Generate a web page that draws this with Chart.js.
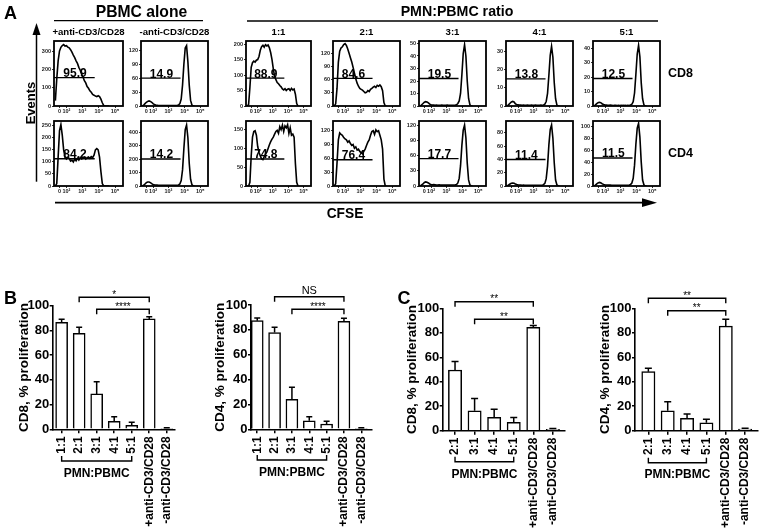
<!DOCTYPE html>
<html><head><meta charset="utf-8">
<script src="https://cdn.jsdelivr.net/npm/chart.js@4.4.1/dist/chart.umd.min.js"></script>
<style>
html,body{margin:0;padding:0;background:#fff;}
#fig{position:relative;width:763px;height:529px;overflow:hidden;background:#fff;}
#fig canvas{position:absolute;}
#deco{position:absolute;left:0;top:0;pointer-events:none;}
</style></head><body><div id="fig"></div>
<script>
// ---------------- DATA ----------------
// Panel A: CFSE histograms (x = CFSE channel in display units, y = events)
const channelGrid = [20,40,60,80,100,120,140,160,180,200,220,240,260,280,300,320,340,360,380,400,420,440,460,480,500,520,540,560,580,600,620,640,660,680,700,720,740,760,780,800];
const cfseTickPos = [80,180,410,650,885];
const cfseTickLabels = ['0','10²','10³','10⁴','10⁵'];
const columnLabels = ['+anti-CD3/CD28','-anti-CD3/CD28','1:1','2:1','3:1','4:1','5:1'];

const cd8Plus  = [30,150,250,305,325,335,340,332,334,326,322,312,298,282,268,250,236,214,198,176,162,140,128,108,98,84,76,64,60,55,52,57,52,38,18,3,0,0,0,0];
const cd8Minus = [0,2,5,8,10,11,10,8,5,3,2,1.5,1,1,1.2,1,0.8,1,1,0.8,1,1,0.8,1,1,1.2,1.5,2,5,15,45,90,125,130,95,45,12,2,0,0];
const cd8R11   = [0,5,60,125,140,145,142,148,150,160,180,192,196,190,198,194,197,188,172,150,120,95,85,76,72,66,62,55,52,56,50,54,56,50,57,52,55,38,8,0];
const cd8R21   = [0,5,40,100,125,132,135,140,142,138,130,120,110,100,88,75,62,52,45,40,38,36,33,30,31,35,33,38,40,43,45,42,47,45,48,44,35,8,0,0];
const cd8R31   = [0,1,2,3,3.5,3.2,2.5,1.5,1,0.8,0.7,0.6,0.7,0.6,0.5,0.6,0.7,0.6,0.5,0.6,0.7,0.6,0.5,0.6,0.5,0.6,0.7,1,2,4,10,25,42,49,40,20,6,1,0,0];
const cd8R41   = [0,0.8,1.5,2.2,2.5,2.2,1.2,0.8,0.6,0.5,0.5,0.4,0.5,0.4,0.4,0.5,0.4,0.4,0.5,0.4,0.4,0.5,0.4,0.4,0.4,0.5,0.4,0.6,1,2.5,7,17,28,33,27,13,4,0.5,0,0];
const cd8R51   = [0,1,1.8,2.4,2.6,2.2,1.4,1,0.7,0.6,0.5,0.5,0.6,0.5,0.4,0.5,0.5,0.4,0.5,0.4,0.5,0.4,0.4,0.5,0.4,0.5,0.4,0.7,1.2,3,9,22,36,42,34,16,5,0.8,0,0];

const cd4Plus  = [0,10,120,230,255,210,150,120,112,118,115,104,108,100,112,105,115,108,118,112,116,120,112,118,121,115,122,118,128,150,155,150,120,60,10,0,0,0,0,0];
const cd4Minus = [0,5,15,25,30,30,25,18,12,9,8,7,6,5,6,5,5,6,5,5,5,6,5,5,5,5,6,8,15,40,120,280,420,455,360,170,50,10,0,0];
const cd4R11   = [0,0,10,80,130,145,147,135,105,90,80,72,70,78,85,90,100,110,118,125,130,138,145,148,140,158,150,162,145,160,155,163,140,155,135,138,130,60,10,0];
const cd4R21   = [0,5,50,100,115,112,110,105,102,100,95,98,92,88,90,82,85,78,80,75,72,70,75,80,88,95,100,110,118,120,112,122,118,120,110,100,80,15,0,0];
const cd4R31   = [0,2,4,7,8,7.5,6,4,3,2.5,3,2.5,2,2,2.2,2,1.8,2,2,1.8,2,2,1.8,2,2,2,2.2,3,6,15,40,80,110,120,95,45,12,2,0,0];
const cd4R41   = [0,1.5,3,4,4.5,4,3,2.2,1.8,1.5,1.5,1.2,1.3,1.1,1,1.2,1,1,1.1,1,1,1.1,1,1,1,1,1.2,2,4,11,30,62,85,92,72,35,9,1.5,0,0];
const cd4R51   = [0,2,4,5.5,6,5,3.5,2.5,2,1.8,1.6,1.5,1.4,1.3,1.2,1.3,1.2,1.1,1.2,1.1,1.1,1.2,1.1,1.1,1.1,1.2,1.3,2.5,5,13,35,70,97,105,82,40,10,2,0,0];

const cd8YMax = [360,140,210,148,52,36,45];
const cd8YTicks = [[0,100,200,300],[0,30,60,90,120],[0,50,100,150,200],[0,30,60,90,120],[0,10,20,30,40,50],[0,10,20,30],[0,10,20,30,40]];
const cd8GateLevel = [157,60,90,63,22,15,19];
const cd8GatePct = ['95.9','14.9','88.9','84.6','19.5','13.8','12.5'];

const cd4YMax = [270,485,173,141,128,98,109];
const cd4YTicks = [[0,50,100,150,200,250],[0,100,200,300,400],[0,50,100,150],[0,30,60,90,120],[0,30,60,90,120],[0,20,40,60,80],[0,20,40,60,80,100]];
const cd4GateLevel = [113,202,72,57,54,40,47];
const cd4GatePct = ['84.2','14.2','74.8','76.4','17.7','11.4','11.5'];

// Panels B and C: % proliferation (mean, SEM)
const catsB = ['1:1','2:1','3:1','4:1','5:1','+anti-CD3/CD28','-anti-CD3/CD28'];
const catsC = ['2:1','3:1','4:1','5:1','+anti-CD3/CD28','-anti-CD3/CD28'];
const bCD8 = [86.6,77.7,28.6,6.5,3.2,89.3,0.8];
const bCD8Err = [2.4,4.8,9.9,3.7,2.5,1.7,0.5];
const bCD4 = [87.4,77.8,24.1,6.9,4.3,86.9,0.8];
const bCD4Err = [2.1,4.2,9.7,3.2,2.1,2.4,0.5];
const cCD8 = [49.6,16.3,11,6.8,84.5,1.2];
const cCD8Err = [7,10,6.5,4,1.5,0.6];
const cCD4 = [48.2,16.3,10.1,6.5,85.5,1.3];
const cCD4Err = [2.8,7.4,3.5,2.8,5.5,0.8];
const yTicksPct = [0,20,40,60,80,100];
// significance comparisons: [from index, to index, label]
const sigBCD8 = [[1,5,'*'],[2,5,'****']];
const sigBCD4 = [[1,5,'NS'],[2,5,'****']];
const sigCCD8 = [[0,4,'**'],[1,4,'**']];
const sigCCD4 = [[0,4,'**'],[1,4,'**']];

// ---------------- RENDER ----------------
const FONT = "'Liberation Sans', Arial, Helvetica, sans-serif";
Chart.defaults.font.family = FONT;
Chart.defaults.color = '#000';
const fig = document.getElementById('fig');

function addCanvas(left, top, w, h){
  const c = document.createElement('canvas');
  c.width = w; c.height = h;
  c.style.left = left + 'px'; c.style.top = top + 'px';
  c.style.width = w + 'px'; c.style.height = h + 'px';
  fig.appendChild(c);
  return c;
}
function noPadH(s){ s.paddingLeft = 0; s.paddingRight = 0; }
function noPadV(s){ s.paddingTop = 0; s.paddingBottom = 0; }

const histDeco = {
  id: 'histDeco',
  afterDraw(chart, args, o){
    const {ctx, chartArea: a, scales: {x, y}} = chart;
    ctx.save();
    ctx.strokeStyle = '#000';
    ctx.lineWidth = 1.8;
    ctx.strokeRect(a.left, a.top, a.right - a.left, a.bottom - a.top);
    const gy = y.getPixelForValue(o.gate);
    ctx.lineWidth = 1.4;
    ctx.beginPath(); ctx.moveTo(a.left, gy); ctx.lineTo(x.getPixelForValue(o.gateEnd), gy); ctx.stroke();
    ctx.fillStyle = '#000';
    ctx.font = 'bold 12px ' + FONT;
    ctx.textAlign = 'center'; ctx.textBaseline = 'alphabetic';
    ctx.fillText(o.label, x.getPixelForValue(o.labelAt), gy - 0.5);
    ctx.restore();
  }
};

const histBoxLeft = [54,141,246,333,419,506,593];
const histBoxWidth = [69,67,65,67,67,67,67];
const histRowTop = [41,121];
const histBoxH = 65;

function makeHist(col, row, ys, ymax, ticks, gate, label){
  const padL = 20, padT = 3, padR = 3, padB = 10;
  const w = histBoxWidth[col] + padL + padR, h = histBoxH + padT + padB;
  const c = addCanvas(histBoxLeft[col] - padL, histRowTop[row] - padT, w, h);
  new Chart(c, {
    type: 'line',
    data: { datasets: [{ data: channelGrid.map((x, i) => ({x: x, y: ys[i]})), borderColor: '#000', borderWidth: 1.6, pointRadius: 0, tension: 0, fill: false }] },
    options: {
      responsive: false, animation: false, devicePixelRatio: 1,
      layout: { padding: { top: padT, right: padR, left: 0, bottom: 0 } },
      plugins: { legend: {display: false}, tooltip: {enabled: false},
        histDeco: { gate: gate, gateEnd: 590, labelAt: 305, label: label } },
      scales: {
        x: { type: 'linear', min: 0, max: 1000, offset: false,
          afterBuildTicks: s => { s.ticks = cfseTickPos.map(v => ({value: v})); },
          afterFit: s => { s.height = padB; noPadH(s); },
          ticks: { autoSkip: false, minRotation: 0, maxRotation: 0, padding: 0.5, color: '#222',
            font: {size: 5.5, weight: 'bold'}, callback: (v, i) => cfseTickLabels[i] },
          grid: { drawOnChartArea: false, tickLength: 2, color: '#000', lineWidth: 0.8, offset: false },
          border: { display: false } },
        y: { min: 0, max: ymax,
          afterBuildTicks: s => { s.ticks = ticks.map(v => ({value: v})); },
          afterFit: s => { s.width = padL; noPadV(s); },
          ticks: { padding: 1, color: '#222', font: {size: 5.5, weight: 'bold'}, callback: v => String(v) },
          grid: { drawOnChartArea: false, tickLength: 2, color: '#000', lineWidth: 0.8 },
          border: { display: false } }
      }
    },
    plugins: [histDeco]
  });
}

const cd8Curves = [cd8Plus, cd8Minus, cd8R11, cd8R21, cd8R31, cd8R41, cd8R51];
const cd4Curves = [cd4Plus, cd4Minus, cd4R11, cd4R21, cd4R31, cd4R41, cd4R51];
for (let i = 0; i < 7; i++){
  makeHist(i, 0, cd8Curves[i], cd8YMax[i], cd8YTicks[i], cd8GateLevel[i], cd8GatePct[i]);
  makeHist(i, 1, cd4Curves[i], cd4YMax[i], cd4YTicks[i], cd4GateLevel[i], cd4GatePct[i]);
}

// ---- bar charts ----
const barDeco = {
  id: 'barDeco',
  afterDatasetsDraw(chart, args, o){
    const {ctx, scales: {x, y}} = chart;
    ctx.save(); ctx.strokeStyle = '#000'; ctx.lineWidth = 1.5;
    o.vals.forEach((v, i) => {
      const px = x.getPixelForValue(i), y1 = y.getPixelForValue(v), y2 = y.getPixelForValue(v + o.errs[i]);
      ctx.beginPath();
      ctx.moveTo(px, y1); ctx.lineTo(px, y2);
      ctx.moveTo(px - o.capW / 2, y2); ctx.lineTo(px + o.capW / 2, y2);
      ctx.stroke();
    });
    ctx.restore();
  },
  afterDraw(chart, args, o){
    const {ctx, scales: {x}} = chart; const T = o.canvasTop;
    ctx.save(); ctx.strokeStyle = '#000'; ctx.fillStyle = '#000'; ctx.lineWidth = 1.4;
    ctx.textAlign = 'center';
    o.sig.forEach((s, k) => {
      const x1 = x.getPixelForValue(s[0]), x2 = x.getPixelForValue(s[1]), yy = o.sigY[k] - T;
      ctx.beginPath(); ctx.moveTo(x1, yy + 5); ctx.lineTo(x1, yy); ctx.lineTo(x2, yy); ctx.lineTo(x2, yy + 5); ctx.stroke();
      const stars = /^\*+$/.test(s[2]);
      ctx.font = (stars ? '10px ' : '11px ') + FONT;
      ctx.textBaseline = 'alphabetic';
      ctx.fillText(s[2], (x1 + x2) / 2, stars ? yy + 0.5 : yy - 2.7);
    });
    const g1 = x.getPixelForValue(o.group[0]), g2 = x.getPixelForValue(o.group[1]), gy = o.groupY - T;
    ctx.beginPath(); ctx.moveTo(g1, gy - 5); ctx.lineTo(g1, gy); ctx.lineTo(g2, gy); ctx.lineTo(g2, gy - 5); ctx.stroke();
    ctx.font = 'bold 12px ' + FONT; ctx.textBaseline = 'middle';
    ctx.fillText('PMN:PBMC', (g1 + g2) / 2, o.groupTextY - T);
    ctx.restore();
  }
};

function makeBar(g, cats, vals, errs, sig, title){
  const top = 280, H = 249;
  const w = Math.round(g.right + 6 - g.left);
  const c = addCanvas(g.left, top, w, H);
  new Chart(c, {
    type: 'bar',
    data: { datasets: [{ data: cats.map((cat, i) => ({x: i, y: vals[i]})), backgroundColor: '#fff',
      borderColor: '#000', borderWidth: 1.5, barThickness: g.barW }] },
    options: {
      responsive: false, animation: false, devicePixelRatio: 1,
      layout: { padding: { top: g.top - top, right: w - (g.right - g.left), left: 0, bottom: 0 } },
      plugins: { legend: {display: false}, tooltip: {enabled: false},
        barDeco: { vals: vals, errs: errs, capW: g.capW, sig: sig, sigY: g.sigY, canvasTop: top,
          group: [0, cats.length - 3], groupY: g.groupY, groupTextY: g.groupTextY } },
      scales: {
        x: { type: 'linear', min: g.xmin, max: g.xmax, offset: false,
          afterBuildTicks: s => { s.ticks = cats.map((cat, i) => ({value: i})); },
          afterFit: s => { s.height = H - (g.bottom - top); noPadH(s); },
          ticks: { autoSkip: false, minRotation: 90, maxRotation: 90, padding: 3, color: '#000',
            font: {size: 12, weight: 'bold'}, callback: (v, i) => cats[i] },
          grid: { drawOnChartArea: false, tickLength: 4, color: '#000', lineWidth: 1.5, offset: false },
          border: { display: true, color: '#000', width: 1.6 } },
        y: { min: 0, max: 100,
          afterBuildTicks: s => { s.ticks = yTicksPct.map(v => ({value: v})); },
          afterFit: s => { s.width = g.axis - g.left; noPadV(s); },
          ticks: { padding: 0.5, color: '#000', font: {size: 13, weight: 'bold'} },
          grid: { drawOnChartArea: false, tickLength: 3, color: '#000', lineWidth: 1.5 },
          border: { display: true, color: '#000', width: 1.6 },
          title: { display: true, text: title, color: '#000', font: {size: 13.5, weight: 'bold'},
            padding: { top: g.titleX - g.left - 8.1, bottom: 0 } } }
      }
    },
    plugins: [barDeco]
  });
}

makeBar({left: 0, axis: 52.7, right: 175, top: 305.7, bottom: 429.3, xmin: -0.51, xmax: 6.47, barW: 12, capW: 6,
  titleX: 24, sigY: [297.3, 309.3], groupY: 461, groupTextY: 473.3}, catsB, bCD8, bCD8Err, sigBCD8, 'CD8, % proliferation');
makeBar({left: 195, axis: 251, right: 371.7, top: 305, bottom: 429.3, xmin: -0.36, xmax: 6.6, barW: 12, capW: 6,
  titleX: 220.2, sigY: [296.7, 309.3], groupY: 460, groupTextY: 472.3}, catsB, bCD4, bCD4Err, sigBCD4, 'CD4, % proliferation');
makeBar({left: 388, axis: 442.7, right: 565, top: 308.3, bottom: 430.7, xmin: -0.63, xmax: 5.62, barW: 13.3, capW: 7,
  titleX: 411.8, sigY: [301.7, 319.3], groupY: 461.7, groupTextY: 475}, catsC, cCD8, cCD8Err, sigCCD8, 'CD8, % proliferation');
makeBar({left: 580, axis: 635, right: 757.7, top: 308.3, bottom: 430.7, xmin: -0.69, xmax: 5.65, barW: 13.3, capW: 7,
  titleX: 605.2, sigY: [298.3, 310.7], groupY: 462.7, groupTextY: 475}, catsC, cCD4, cCD4Err, sigCCD4, 'CD4, % proliferation');

// ---- panel-level labels, header lines and axis arrows ----
function t(x, y, str, size, extra){
  return `<text x="${x}" y="${y}" font-size="${size}" text-anchor="middle" dominant-baseline="central" ${extra || ''}>${str}</text>`;
}
let svg = `<svg id="deco" width="763" height="529" viewBox="0 0 763 529" xmlns="http://www.w3.org/2000/svg" font-family="${FONT.replace(/'/g, '')}" font-weight="bold" fill="#000">`;
svg += t(10.5, 12.5, 'A', 18) + t(10.5, 297.5, 'B', 18) + t(404, 297.5, 'C', 18);
svg += t(141.5, 11, 'PBMC alone', 15.7) + t(457, 11, 'PMN:PBMC ratio', 14.2);
svg += `<line x1="54" y1="20.7" x2="203" y2="20.7" stroke="#000" stroke-width="1.3"/>`;
svg += `<line x1="247" y1="21" x2="658" y2="21" stroke="#000" stroke-width="1.3"/>`;
columnLabels.forEach((lab, i) => { svg += t(histBoxLeft[i] + histBoxWidth[i] / 2, 31.5, lab, 9.6); });
svg += t(680.5, 73, 'CD8', 12.5) + t(680.5, 153, 'CD4', 12.5);
svg += t(345, 213.3, 'CFSE', 13.75);
svg += t(30, 103, 'Events', 13, 'transform="rotate(-90 30 103)"');
svg += `<line x1="36.5" y1="181.7" x2="36.5" y2="30" stroke="#000" stroke-width="1.5"/>`;
svg += `<polygon points="36.5,23 32.5,35 40.5,35" fill="#000"/>`;
svg += `<line x1="55" y1="202.7" x2="646" y2="202.7" stroke="#000" stroke-width="1.8"/>`;
svg += `<polygon points="657,202.7 642,198.3 642,207.1" fill="#000"/>`;
svg += `</svg>`;
fig.insertAdjacentHTML('beforeend', svg);
</script></body></html>
